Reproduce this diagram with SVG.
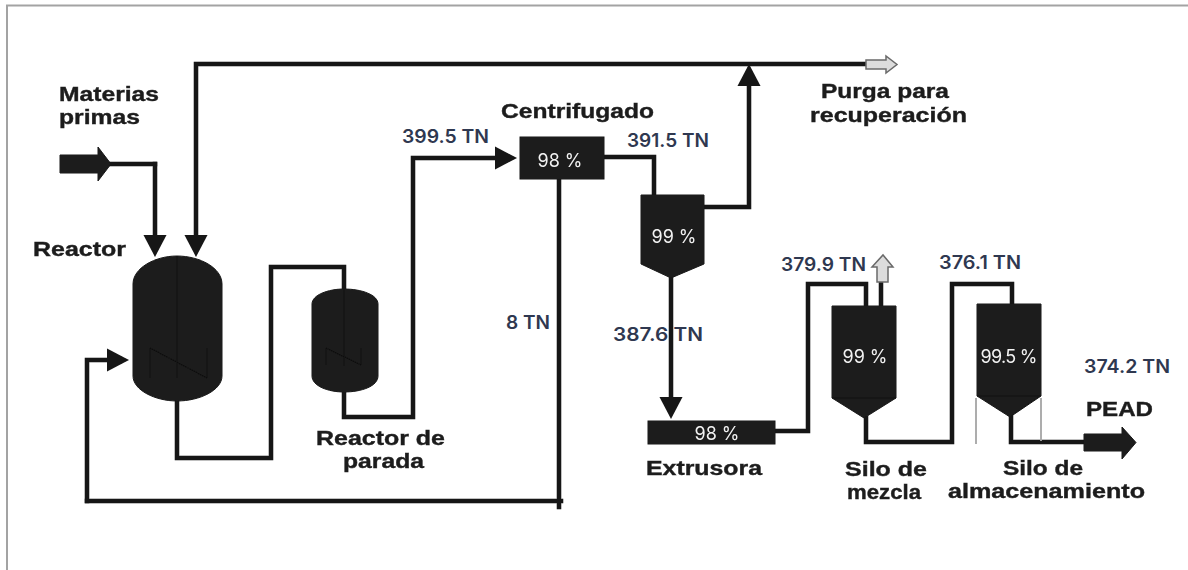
<svg xmlns="http://www.w3.org/2000/svg" width="1188" height="570" viewBox="0 0 1188 570">
<style>
.eq{fill:#1a1a1a;stroke:#1a1a1a;stroke-width:1}
.in{fill:none;stroke:#101010;stroke-width:1}
.c{fill:none;stroke:#141414;stroke-width:4.5;stroke-linejoin:miter;stroke-linecap:square}
.ca{marker-end:url(#ah)}
.lg{fill:none;stroke:#a5a5a5;stroke-width:1.8}
.va{fill:#dcdcdc;stroke:#6a6a6a;stroke-width:1.5}
.t{font-family:"Liberation Sans",Arial,sans-serif;font-weight:700;font-size:21px;fill:#1c1c1c;stroke:#1c1c1c;stroke-width:.4}
.b{font-family:Inter,"Noto Sans",sans-serif;font-weight:600;font-size:18.500px;fill:#2f3850}
.w{font-family:Inter,"Noto Sans",sans-serif;font-weight:400;font-size:18px;fill:#f2f2f2;text-anchor:middle}
</style>
<defs>
<filter id="s" x="-5%" y="-5%" width="110%" height="110%"><feGaussianBlur stdDeviation="0.7"/></filter>
<marker id="ah" markerUnits="userSpaceOnUse" markerWidth="24" markerHeight="26" refX="0" refY="13" orient="auto"><path d="M0,1.500L22,13L0,24.500Z" fill="#141414"/></marker>
</defs>
<rect width="1188" height="570" fill="#fff"/>
<path d="M1188,5.500H7V570" fill="none" stroke="#a3a3a3" stroke-width="2"/>
<g filter="url(#s)">
<g id="connectors">
<path class="c ca" d="M868,64H196V235"/>
<path class="c" d="M100,164H155"/>
<path class="c ca" d="M155,164V235"/>
<path class="c" d="M177,400V458H271V267H344V292"/>
<path class="c ca" d="M344,390V417H413V158H495"/>
<path class="c" d="M604,157H654V197"/>
<path class="c" d="M559,179V507M561,501H87"/>
<path class="c ca" d="M87,501V360H107"/>
<path class="c ca" d="M704,207H749V86"/>
<path class="c ca" d="M671,278V397"/>
<path class="c" d="M775,431H808V284H866V306"/>
<path class="c" d="M881,306V282"/>
<path class="c" d="M866,418V442H952V284H1012V304"/>
<path class="c" d="M1011,417V442H1086"/>
</g>
<g id="materias-primas">
<path class="eq" d="M60,155H98V147L111,164L98,181V173H60Z"/>
<text class="t" x="59" y="101" textLength="100" lengthAdjust="spacingAndGlyphs">Materias</text>
<text class="t" x="59" y="124" textLength="81" lengthAdjust="spacingAndGlyphs">primas</text>
</g>
<g id="reactor">
<path class="eq" d="M133,284C133,268 155,256 177,256C200,256 222,268 222,284V376C222,390 200,401 177,401C155,401 133,390 133,376Z"/>
<path class="in" d="M177,256V378M150,378V348L207,378V348"/>
<text class="t" x="33" y="256" textLength="93" lengthAdjust="spacingAndGlyphs">Reactor</text>
</g>
<g id="reactor-parada">
<path class="eq" d="M312,304C312,295 328,289 344,289C362,289 378,295 378,304V376C378,386 362,392 344,392C328,392 312,386 312,376Z"/>
<path class="in" d="M344,289V366M326,365V348L361,365V348"/>
<text class="t" x="316" y="445" textLength="129" lengthAdjust="spacingAndGlyphs">Reactor de</text>
<text class="t" x="343" y="468" textLength="81" lengthAdjust="spacingAndGlyphs">parada</text>
</g>
<g id="centrifugado">
<rect class="eq" x="520" y="137" width="84" height="42"/>
<text class="t" x="501" y="118" textLength="153" lengthAdjust="spacingAndGlyphs">Centrifugado</text>
<text class="w" x="560" y="167">98 %</text>
</g>
<g id="separador">
<path class="eq" d="M641,195H704V264L671,278L641,264Z"/>
<text class="w" x="674" y="243">99 %</text>
</g>
<g id="extrusora">
<rect class="eq" x="648" y="421" width="127" height="23"/>
<text class="w" x="717" y="440">98 %</text>
<text class="t" x="646" y="475" textLength="116" lengthAdjust="spacingAndGlyphs">Extrusora</text>
</g>
<g id="silo-mezcla">
<path class="eq" d="M832,306H896V398L864,418L832,398Z"/>
<path class="in" d="M832,398H896"/>
<text class="w" x="865" y="363">99 %</text>
<text class="t" x="845" y="476" textLength="82" lengthAdjust="spacingAndGlyphs">Silo de</text>
<text class="t" x="847" y="499" textLength="74" lengthAdjust="spacingAndGlyphs">mezcla</text>
</g>
<g id="silo-almacenamiento">
<path class="lg" d="M976,398V444M1041,398V441"/>
<path class="eq" d="M977,304H1041V396L1010,417L977,396Z"/>
<path class="in" d="M977,396H1041"/>
<text class="w" x="1009" y="363" textLength="57">99.5 %</text>
<text class="t" x="1003" y="475" textLength="80" lengthAdjust="spacingAndGlyphs">Silo de</text>
<text class="t" x="948" y="498" textLength="197" lengthAdjust="spacingAndGlyphs">almacenamiento</text>
</g>
<g id="pead">
<path class="eq" d="M1084,434H1122V427L1136,442.500L1122,459V451H1084Z"/>
<text class="t" x="1086" y="416" textLength="67" lengthAdjust="spacingAndGlyphs">PEAD</text>
</g>
<g id="purga">
<path class="va" d="M866,60H886V56L897,64.500L886,73V69H866Z"/>
<text class="t" x="821" y="98" textLength="128" lengthAdjust="spacingAndGlyphs">Purga para</text>
<text class="t" x="810" y="122" textLength="157" lengthAdjust="spacingAndGlyphs">recuperación</text>
</g>
<g id="venteo">
<path class="va" d="M877,282V267H872L883,255L893,267H888V282Z"/>
</g>
</g>
<g id="flujos">
<text class="b" x="402" y="143" textLength="87" lengthAdjust="spacingAndGlyphs">399.5 TN</text>
<text class="b" x="627" y="147" textLength="82" lengthAdjust="spacingAndGlyphs">391.5 TN</text>
<text class="b" x="506" y="329" textLength="44" lengthAdjust="spacingAndGlyphs">8 TN</text>
<text class="b" x="613" y="341" textLength="90" lengthAdjust="spacingAndGlyphs">387.6  TN</text>
<text class="b" x="781" y="271" textLength="85" lengthAdjust="spacingAndGlyphs">379.9 TN</text>
<text class="b" x="939" y="269" textLength="82" lengthAdjust="spacingAndGlyphs">376.1 TN</text>
<text class="b" x="1084" y="373" textLength="86" lengthAdjust="spacingAndGlyphs">374.2 TN</text>
</g>
</svg>
